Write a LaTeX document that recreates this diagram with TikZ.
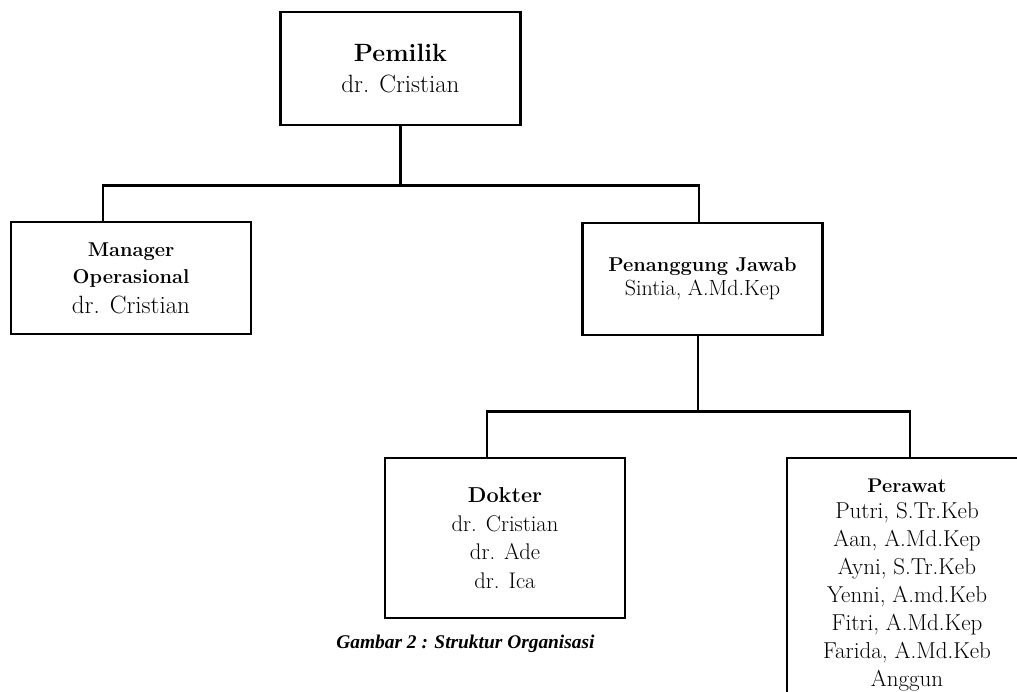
\documentclass[tikz,border=0pt]{standalone}
\usepackage{fontspec}
\newfontfamily\captionfont{Liberation Serif}

\tikzset{
  orgbox/.style={draw, line width=2.6pt, minimum width=240pt, align=center, inner sep=0pt},
  orgline/.style={line width=2.6pt},
}

\begin{document}
\begin{tikzpicture}[x=1pt, y=-1pt]
  \clip (0,0) rectangle (1017,691);

  % ---boxes
  \node[orgbox, minimum height=113pt, font=\fontsize{25}{31}\selectfont] (pemilik) at (400.5,68.5)
    {\textbf{Pemilik}\\dr. Cristian};
  \node[orgbox, minimum height=112pt, font=\fontsize{25}{27}\selectfont] (manager) at (131,278)
    {{\fontsize{20}{27}\selectfont\bfseries Manager}\\{\fontsize{20}{27}\selectfont\bfseries Operasional}\\[3pt]dr. Cristian};
  \node[orgbox, minimum height=112pt, font=\fontsize{22}{24}\selectfont] (jawab) at (702.5,279)
    {{\fontsize{20}{24}\selectfont\bfseries Penanggung Jawab}\\Sintia, A.Md.Kep};
  \node[orgbox, minimum height=160pt, font=\fontsize{22.6}{28.5}\selectfont] (dokter) at (505,538)
    {{\fontsize{21.6}{28.5}\selectfont\bfseries Dokter}\\dr. Cristian\\dr. Ade\\dr. Ica};
  \node[orgbox, minimum height=255pt, font=\fontsize{23}{28}\selectfont] (perawat) at (907,585.5)
    {{\fontsize{19.8}{28}\selectfont\bfseries Perawat}\\[-2pt]Putri, S.Tr.Keb\\Aan, A.Md.Kep\\Ayni, S.Tr.Keb\\Yenni, A.md.Keb\\Fitri, A.Md.Kep\\Farida, A.Md.Keb\\Anggun};

  % ---lines
  \draw[orgline] (pemilik.south) -- ++(0,59) coordinate (topbus);
  \draw[orgline] ([xshift=-28pt]manager.north) |- (topbus) -| ([xshift=-3.5pt]jawab.north);
  \draw[orgline] ([xshift=-4.5pt]jawab.south) -- ++(0,75) coordinate (lowbus);
  \draw[orgline] ([xshift=-18pt]dokter.north) |- (lowbus) -| ([xshift=3pt]perawat.north);

  % ---caption
  \node[anchor=base, inner sep=0pt, font=\captionfont\fontsize{19.4}{23}\selectfont\bfseries\itshape] (caption) at (465.5,648)
    {Gambar 2 : Struktur Organisasi};
\end{tikzpicture}
\end{document}
